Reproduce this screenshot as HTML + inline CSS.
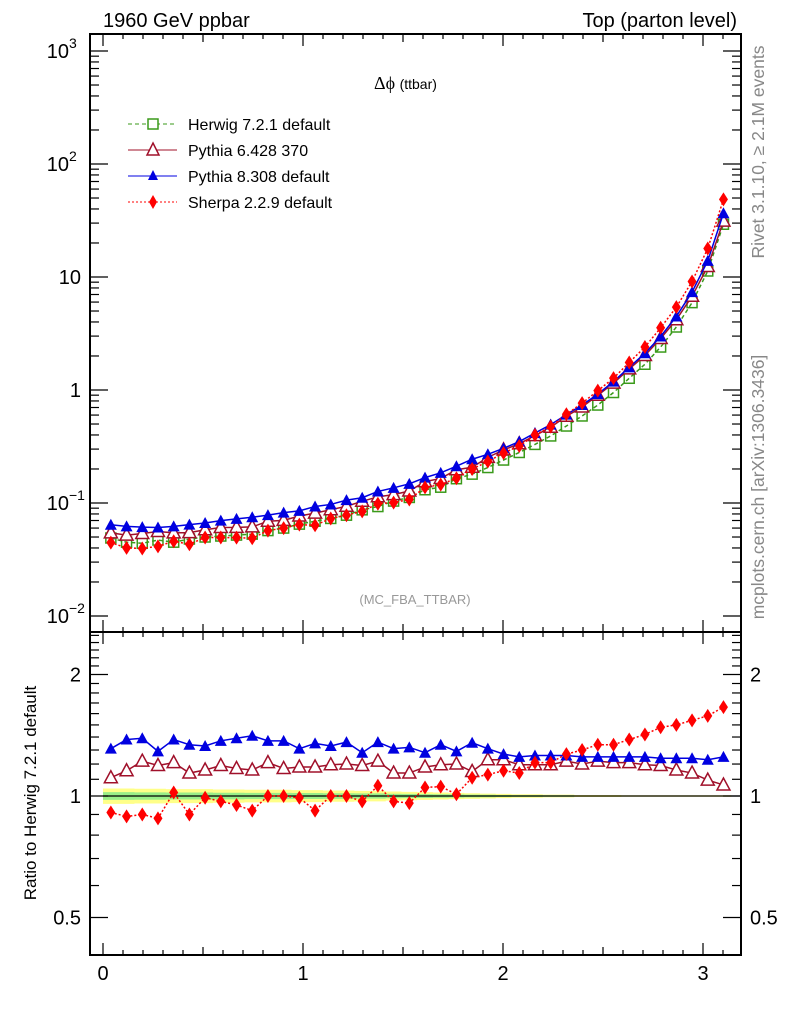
<!DOCTYPE html>
<html><head><meta charset="utf-8"><style>
body{margin:0;background:#fff;}
svg{display:block;font-family:"Liberation Sans",sans-serif;}
</style></head><body>
<svg id="c" width="786" height="1024" viewBox="0 0 786 1024" xmlns="http://www.w3.org/2000/svg">
<text x="103" y="27" font-size="20">1960 GeV ppbar</text>
<text x="737" y="27" font-size="20" text-anchor="end">Top (parton level)</text>
<text x="374" y="89" font-size="18" font-family="Liberation Serif,serif">Δϕ <tspan font-size="14" font-family="Liberation Sans,sans-serif">(ttbar)</tspan></text>
<text x="415" y="604" font-size="13" fill="#999" text-anchor="middle">(MC_FBA_TTBAR)</text>
<text transform="translate(764,152) rotate(-90)" font-size="17.5" fill="#888" text-anchor="middle">Rivet 3.1.10, ≥ 2.1M events</text>
<text transform="translate(764,487) rotate(-90)" font-size="17.5" fill="#888" text-anchor="middle">mcplots.cern.ch [arXiv:1306.3436]</text>
<text transform="translate(36,793) rotate(-90)" font-size="17" text-anchor="middle">Ratio to Herwig 7.2.1 default</text>
<g id="g"></g>
<g>
<g><line x1="128" y1="124" x2="177" y2="124" stroke="#3a9a1a" stroke-dasharray="4,3"/><rect x="148" y="119" width="10" height="10" fill="#fff" stroke="#3a9a1a" stroke-width="1.5"/><text x="188" y="130" font-size="16">Herwig 7.2.1 default</text></g>
<g><line x1="128" y1="150" x2="177" y2="150" stroke="#a0102a"/><path d="M153,143 L159,155 L147,155Z" fill="#fff" stroke="#a0102a" stroke-width="1.5"/><text x="188" y="156" font-size="16">Pythia 6.428 370</text></g>
<g><line x1="128" y1="176" x2="177" y2="176" stroke="#0000e0"/><path d="M153,170 L158,180 L148,180Z" fill="#0000e0"/><text x="188" y="182" font-size="16">Pythia 8.308 default</text></g>
<g><line x1="128" y1="202" x2="177" y2="202" stroke="#ff0000" stroke-dasharray="2,2"/><path d="M153,195 L157,202 L153,209 L149,202Z" fill="#ff0000"/><text x="188" y="208" font-size="16">Sherpa 2.2.9 default</text></g>
</g>
</svg>
<script>
const herwig=[0.049,0.045,0.044,0.047,0.045,0.048,0.050,0.051,0.052,0.053,0.057,0.060,0.065,0.069,0.073,0.078,0.087,0.093,0.104,0.112,0.131,0.138,0.164,0.180,0.206,0.240,0.28,0.330,0.392,0.48,0.589,0.736,0.95,1.27,1.69,2.40,3.61,5.93,11.3,29.3];
const ratioPy8=[1.31,1.38,1.39,1.29,1.38,1.34,1.33,1.37,1.39,1.41,1.37,1.37,1.31,1.35,1.33,1.36,1.28,1.36,1.31,1.32,1.28,1.34,1.29,1.355,1.31,1.27,1.25,1.26,1.26,1.26,1.25,1.25,1.25,1.25,1.25,1.24,1.24,1.24,1.23,1.25];
const ratioPy6=[1.11,1.155,1.22,1.19,1.21,1.14,1.16,1.19,1.17,1.16,1.21,1.17,1.18,1.18,1.195,1.2,1.19,1.22,1.14,1.14,1.18,1.195,1.2,1.15,1.23,1.23,1.195,1.195,1.195,1.22,1.2,1.22,1.21,1.21,1.195,1.19,1.16,1.14,1.095,1.065];
const ratioSherpa=[0.91,0.89,0.90,0.88,1.02,0.90,0.99,0.97,0.95,0.92,1.0,1.0,0.99,0.92,1.0,1.0,0.97,1.06,0.97,0.96,1.05,1.055,1.01,1.11,1.13,1.155,1.14,1.21,1.21,1.27,1.30,1.34,1.34,1.38,1.42,1.48,1.50,1.54,1.58,1.66];
const herwigErr=[0.022,0.022,0.021,0.021,0.02,0.02,0.02,0.019,0.019,0.018,0.018,0.018,0.017,0.017,0.016,0.016,0.015,0.015,0.013,0.012,0.011,0.01,0.009,0.008,0.007,0.006,0.005,0.005,0.004,0.004,0.003,0.003,0.003,0.002,0.002,0.002,0.002,0.002,0.002,0.002];
const xTickLabels=["0","1","2","3"];
const NB=herwig.length, XMAX=Math.PI;
const X=v=>103+200*v;
const YM=v=>390-113*Math.log10(v);
const YR=r=>796-121.5*Math.log2(r);
const g=document.getElementById('g');
const NS='http://www.w3.org/2000/svg';
function mk(tag,at,parent){const e=document.createElementNS(NS,tag);for(const k in at)e.setAttribute(k,at[k]);(parent||g).appendChild(e);return e;}
const cx=i=>X((i+0.5)*XMAX/NB);
let up='',dn='';
for(let i=0;i<NB;i++){const x0=X(i*XMAX/NB),x1=X((i+1)*XMAX/NB);up+=`L${x0},${YR(1+2*herwigErr[i])}L${x1},${YR(1+2*herwigErr[i])}`;dn=`L${x1},${YR(1-2*herwigErr[i])}L${x0},${YR(1-2*herwigErr[i])}`+dn;}
let band=mk('path',{d:'M'+up.slice(1)+dn+'Z',fill:'#ffff88'});


up='';dn='';
for(let i=0;i<NB;i++){const x0=X(i*XMAX/NB),x1=X((i+1)*XMAX/NB);up+=`L${x0},${YR(1+herwigErr[i])}L${x1},${YR(1+herwigErr[i])}`;dn=`L${x1},${YR(1-herwigErr[i])}L${x0},${YR(1-herwigErr[i])}`+dn;}
let band2=mk('path',{d:'M'+up.slice(1)+dn+'Z',fill:'#99ee88'});


let ref=mk('line',{x1:X(0),x2:741,y1:YR(1),y2:YR(1),stroke:'#000','stroke-width':1.3});


let f1=mk('rect',{x:90,y:34,width:651,height:598,fill:'none',stroke:'#000','stroke-width':2});


let f2=mk('rect',{x:90,y:632,width:651,height:323,fill:'none',stroke:'#000','stroke-width':2});


for(let k=0;k<=31;k++){const v=k/10,x=X(v),L=k%10==0?12:(k%5==0?8:5);
 for(const [yt,yb] of [[34,632],[632,955]]){mk('line',{x1:x,x2:x,y1:yb,y2:yb-L,stroke:'#000','stroke-width':1.2});mk('line',{x1:x,x2:x,y1:yt,y2:yt+L,stroke:'#000','stroke-width':1.2});}}
xTickLabels.forEach((t,i)=>{const e=mk('text',{x:X(+t),y:980,'font-size':20,'text-anchor':'middle'});e.textContent=t;
 
 });
for(let d=-2;d<=3;d++){for(let m=1;m<=9;m++){const v=m*Math.pow(10,d),y=YM(v);if(y<34||y>632)continue;const L=m==1?18:9;
 mk('line',{x1:90,x2:90+L,y1:y,y2:y,stroke:'#000','stroke-width':1.2});mk('line',{x1:741,x2:741-L,y1:y,y2:y,stroke:'#000','stroke-width':1.2});}}
const ylab=[[3,'10','3'],[2,'10','2'],[1,'10',''],[0,'1',''],[-1,'10','−1'],[-2,'10','−2']];
ylab.forEach(([d,b,s])=>{const e=mk('text',{x:s?69:81,y:YM(Math.pow(10,d))+7,'font-size':20,'text-anchor':'end'});e.textContent=b;
 
 
 if(s){const t=mk('text',{x:69,y:YM(Math.pow(10,d))-3,'font-size':14});t.textContent=s;}});
const rt=[0.4,0.5,0.6,0.7,0.8,0.9,1,1.1,1.2,1.3,1.4,1.5,1.6,1.7,1.8,1.9,2,2.1,2.2,2.3,2.4,2.5];
rt.forEach(r=>{const y=YR(r);if(y<633||y>954)return;const L=(r==0.5||r==1||r==2)?18:9;
 mk('line',{x1:90,x2:90+L,y1:y,y2:y,stroke:'#000','stroke-width':1.2});mk('line',{x1:741,x2:741-L,y1:y,y2:y,stroke:'#000','stroke-width':1.2});});
[['2',2],['1',1],['0.5',0.5]].forEach(([t,r])=>{for(const [x,a] of [[81,'end'],[750,'start']]){const e=mk('text',{x:x,y:YR(r)+7,'font-size':20,'text-anchor':a});e.textContent=t;
 
 }});
function marker(type,x,y,col,parent){
 if(type=='sq')mk('rect',{x:x-5,y:y-5,width:10,height:10,fill:'none',stroke:col,'stroke-width':1.5},parent);
 else if(type=='otri')mk('path',{d:`M${x},${y-7}L${x+6.5},${y+5}L${x-6.5},${y+5}Z`,fill:'#fff',stroke:col,'stroke-width':1.5},parent);
 else if(type=='tri')mk('path',{d:`M${x},${y-6}L${x+6},${y+5}L${x-6},${y+5}Z`,fill:col},parent);
 else mk('path',{d:`M${x},${y-7}L${x+4.5},${y}L${x},${y+7}L${x-4.5},${y}Z`,fill:col},parent);}
function series(name,vals,ratio,col,dash,type,err){
 const grp=mk('g',{});
 
 
 const pm=vals.map((v,i)=>`${cx(i)},${YM(v)}`).join(' ');
 mk('polyline',{points:pm,fill:'none',stroke:col,'stroke-width':1.5,'stroke-dasharray':dash},grp);
 if(ratio){const pr=ratio.map((r,i)=>`${cx(i)},${YR(r)}`).join(' ');
  mk('polyline',{points:pr,fill:'none',stroke:col,'stroke-width':1.5,'stroke-dasharray':dash},grp);}
 vals.forEach((v,i)=>{marker(type,cx(i),YM(v),col,grp);
  if(ratio){const y=YR(ratio[i]);if(err)mk('line',{x1:cx(i),x2:cx(i),y1:YR(ratio[i]*(1+err)),y2:YR(ratio[i]*(1-err)),stroke:col,'stroke-width':1.5},grp);marker(type,cx(i),y,col,grp);}});
}
series('series-herwig',herwig,null,'#3a9a1a','4,3','sq',0);
series('series-pythia6',herwig.map((h,i)=>h*ratioPy6[i]),ratioPy6,'#a0102a','','otri',0);
series('series-pythia8',herwig.map((h,i)=>h*ratioPy8[i]),ratioPy8,'#0000e0','','tri',0.012);
series('series-sherpa',herwig.map((h,i)=>h*ratioSherpa[i]),ratioSherpa,'#ff0000','2,2','dia',0.02);
</script>
</body></html>
